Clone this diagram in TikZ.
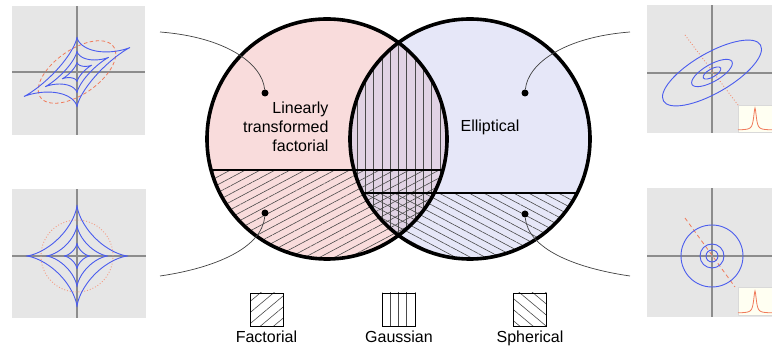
\documentclass[tikz,border=0pt]{standalone}
\usepackage{fontspec}
\setmainfont{Liberation Sans}
\usepackage{xcolor}
\usetikzlibrary{patterns.meta, positioning}

\definecolor{linfill}{HTML}{F9DCDC}
\definecolor{ellfill}{HTML}{E6E7F8}
\definecolor{bothfill}{HTML}{E1D3E4}
\definecolor{panelgray}{HTML}{E6E6E6}
\definecolor{contour}{HTML}{4A5CEE}
\definecolor{salmon}{HTML}{F07A5A}
\definecolor{hatch}{HTML}{4A4A4A}
\definecolor{insetfill}{HTML}{FFFFF2}

\begin{document}
\begin{tikzpicture}[x=1pt, y=1pt,
    venn/.style={line width=3.6pt},
    divider/.style={line width=1.1pt},
    panel/.style={fill=panelgray},
    axis/.style={draw=black!45, line width=1.3pt},
    contourline/.style={draw=contour, line width=0.9pt},
    redcurve/.style={draw=salmon, line width=0.8pt},
    inset/.style={fill=insetfill, draw=black!15, line width=0.5pt},
    dot/.style={circle, fill=black, inner sep=0pt, minimum size=7pt},
    conn/.style={draw=black!75, line width=0.7pt},
    vtext/.style={font=\fontsize{16}{19}\selectfont},
    legbox/.style={draw, line width=0.8pt, minimum size=33pt, inner sep=0pt},
    legtext/.style={font=\fontsize{16}{19}\selectfont},
    fachatch/.style={pattern={Lines[angle=28, distance=7pt, line width=0.6pt]}, pattern color=hatch},
    gauhatch/.style={pattern={Lines[angle=90, distance=8.3pt, line width=0.6pt]}, pattern color=hatch},
    sphhatch/.style={pattern={Lines[angle=-28, distance=7pt, line width=0.6pt]}, pattern color=hatch},
    facleg/.style={pattern={Lines[angle=40, distance=8.5pt, line width=0.6pt]}, pattern color=hatch},
    sphleg/.style={pattern={Lines[angle=-40, distance=8.5pt, line width=0.6pt]}, pattern color=hatch}]

    \useasboundingbox (0,0) rectangle (772,356);

    % side panels, left
    \fill[panel] (12,221) rectangle (145,350);
    \draw[axis] (77,221) -- (77,350);
    \draw[axis] (12,284) -- (145,284);
    \begin{scope}[shift={(77,284)}]
        \draw[redcurve, dash pattern=on 3.5pt off 2.5pt] plot[domain=0:360, samples=121]
            ({38.7*cos(\x)}, {17.9*cos(\x)+25.6*sin(\x)});
        \foreach \s in {1,0.6,0.28}
            \draw[contourline] plot[domain=0:360, samples=241]
                ({\s*53*cos(\x)*cos(\x)*cos(\x)}, {\s*(24.5*cos(\x)*cos(\x)*cos(\x)+35*sin(\x)*sin(\x)*sin(\x))});
    \end{scope}

    \fill[panel] (12,38) rectangle (146,167);
    \draw[axis] (77,38) -- (77,167);
    \draw[axis] (12,100) -- (146,100);
    \begin{scope}[shift={(77,100)}]
        \draw[redcurve, draw=salmon!75, line width=0.9pt, dotted] (0,0) circle (36pt);
        \foreach \s in {51,31,13}
            \draw[contourline] plot[domain=0:360, samples=241]
                ({\s*cos(\x)*cos(\x)*cos(\x)}, {\s*sin(\x)*sin(\x)*sin(\x)});
    \end{scope}

    % side panels, right
    \fill[panel] (647,223) rectangle (772,351);
    \draw[axis] (712,223) -- (712,351);
    \draw[axis] (647,283) -- (772,283);
    \draw[redcurve, draw=salmon!85, line width=0.9pt, dotted] (685,321) -- (738,251);
    \begin{scope}[shift={(712,283)}, rotate=30]
        \draw[contourline] (0,0) ellipse [x radius=56pt, y radius=20pt];
        \draw[contourline] (0,0) ellipse [x radius=23pt, y radius=8.5pt];
        \draw[contourline] (0,0) ellipse [x radius=10pt, y radius=4pt];
    \end{scope}
    \draw[inset] (738,224) rectangle (772,251);
    \draw[redcurve] plot[domain=-17:17, samples=69] ({755+\x}, {226+22/(1+(\x/1.6)^2)});

    \fill[panel] (647,39) rectangle (772,168);
    \draw[axis] (712,39) -- (712,168);
    \draw[axis] (647,100) -- (772,100);
    \draw[redcurve, dash pattern=on 4pt off 3pt] (685,138) -- (735,69);
    \draw[contourline] (712,100) circle (31pt);
    \draw[contourline] (712,100) circle (12pt);
    \draw[contourline] (712,100) circle (6pt);
    \draw[inset] (738,41) rectangle (772,69);
    \draw[redcurve] plot[domain=-17:17, samples=69] ({755+\x}, {43+22/(1+(\x/1.6)^2)});

    % venn diagram
    \coordinate (cL) at (327,217);
    \coordinate (cR) at (470,217);
    \fill[linfill] (cL) circle (120pt);
    \fill[ellfill] (cR) circle (120pt);
    \begin{scope}
        \clip (cL) circle (120pt);
        \fill[bothfill] (cR) circle (120pt);
        \fill[fachatch] (200,90) rectangle (460,186);
        \fill[gauhatch] (cR) circle (120pt);
        \draw[divider] (200,186) -- (460,186);
    \end{scope}
    \begin{scope}
        \clip (cR) circle (120pt);
        \fill[sphhatch] (340,90) rectangle (600,163);
        \draw[divider] (340,163) -- (600,163);
    \end{scope}
    \draw[venn] (cL) circle (120pt);
    \draw[venn] (cR) circle (120pt);

    \node[vtext, align=right, anchor=east] (lintxt) at (332,229) {Linearly\\transformed\\factorial};
    \node[vtext] (elltxt) at (490,229) {Elliptical};

    % connectors to the panels
    \node[dot] (dLT) at (265,263) {};
    \node[dot] (dBL) at (265,143) {};
    \node[dot] (dTR) at (525,263) {};
    \node[dot] (dBR) at (525,142) {};
    \coordinate (eLT) at (160,324);
    \coordinate (eBL) at (160,80);
    \coordinate (eTR) at (630,324);
    \coordinate (eBR) at (630,80);
    \draw[conn] (eLT) .. controls +(65,-5) and +(-3,30) .. (dLT);
    \draw[conn] (eBL) .. controls +(55,8) and +(-3,-35) .. (dBL);
    \draw[conn] (eTR) .. controls +(-65,-5) and +(3,30) .. (dTR);
    \draw[conn] (eBR) .. controls +(-55,8) and +(3,-35) .. (dBR);

    % legend
    \node[legbox, facleg] (facbox) at (266.5,46.5) {};
    \node[legbox, gauhatch] (gaubox) at (399,46.5) {};
    \node[legbox, sphleg] (sphbox) at (530,46.5) {};
    \node[legtext, below=1pt of facbox] (factxt) {Factorial};
    \node[legtext, below=1pt of gaubox] (gautxt) {Gaussian};
    \node[legtext, below=1pt of sphbox] (sphtxt) {Spherical};
\end{tikzpicture}
\end{document}
